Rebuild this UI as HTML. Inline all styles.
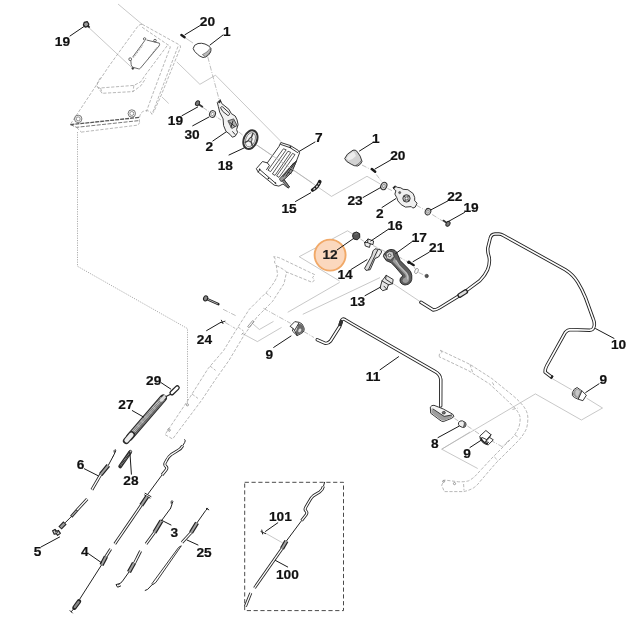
<!DOCTYPE html>
<html>
<head>
<meta charset="utf-8">
<title>Parts diagram</title>
<style>
html,body{margin:0;padding:0;background:#fff;}
body{width:644px;height:623px;overflow:hidden;}
svg{display:block;}
.lb{font-family:"Liberation Sans",Arial,sans-serif;font-weight:bold;font-size:13.7px;fill:#111;stroke:#111;stroke-width:0.2px;}
.ld{stroke:#1a1a1a;stroke-width:1;fill:none;stroke-linecap:round;}
.k{stroke:#222;stroke-width:0.9;fill:none;stroke-linejoin:round;stroke-linecap:round;}
.kf{stroke:#222;stroke-width:0.9;stroke-linejoin:round;}
.g{stroke:#929292;stroke-width:0.65;fill:none;stroke-dasharray:3.2 1.6;stroke-linejoin:round;}
.t{stroke:#b0b0b0;stroke-width:0.7;fill:none;}
.td{stroke:#a4a4a4;stroke-width:0.7;fill:none;stroke-dasharray:5 1.5 1 1.5;}
.dot{stroke:#999;stroke-width:0.8;fill:none;stroke-dasharray:1.2 1.2;}
.tube{stroke:#222;stroke-width:3.4;fill:none;stroke-linejoin:round;stroke-linecap:round;}
.tubei{stroke:#fff;stroke-width:1.6;fill:none;stroke-linejoin:round;stroke-linecap:round;}
.w{stroke:#222;stroke-width:1;fill:none;stroke-linecap:round;stroke-linejoin:round;}
.cb{stroke:#222;stroke-width:3;fill:none;stroke-linejoin:round;}
.ci{stroke:#fff;stroke-width:1.3;fill:none;stroke-linejoin:round;}
.cn{stroke:#222;stroke-width:4.4;fill:none;}
.cni{stroke:#a2a2a2;stroke-width:2;fill:none;}
</style>
</head>
<body>
<svg width="644" height="623" viewBox="0 0 644 623">
<rect x="0" y="0" width="644" height="623" fill="#fff"/>

<!-- ===== thin gray construction lines ===== -->
<g id="thin">

<path class="t" d="M118 4L142 24.2"/>
<path class="t" d="M176.8 61.9L199.9 84.3L215.5 75.2L281 141.5"/>
<path class="td" d="M207.8 57L212 73L219.2 99.8"/>
<path class="t" d="M185.5 38L193 43"/>
<path class="t" d="M88.4 27.2L131.8 67.6"/>
<path class="t" d="M162 97L168.7 103.5"/>
<path class="td" d="M203 107.5L221 120M238.8 131.9L243.7 136"/>
<path class="t" d="M256 144.5L331.5 196.4L367 176.3L380 183.8"/>
<path class="td" d="M362 165L371 169.6M376.3 174.5L382 182M387.5 188.4L393.1 191.2M416.4 205.2L424.8 210M432.2 214.5L442.5 221"/>
<path class="t" d="M339.6 281L299.2 256.7L347.5 230.8L352.8 234"/>
<path class="td" d="M360.4 239L365 242M373 245.5L386 252M398 256.4L408 262M414 267L416 270M418.6 272.5L425 275.5"/>
<path class="t" d="M339.6 282.4L287.7 312.3M380 277.6L302.8 314.3"/>
<path class="t" d="M393.2 283.7L420.5 301.9"/>
<path class="td" d="M223.1 309.3L236.2 315.9M225.1 322.4L235.2 328.4M263.4 308.3L290.7 323.4M303.8 331.5L313.9 337.5"/>
<path class="t" d="M252.3 323.4L259.4 329.5L273.5 321.4M242.3 333.5L257.4 341.6L281.6 327.4"/>
<path class="dot" d="M77.5 132L77.5 266.3L187.5 328.6L187.5 404"/>
<path class="t" d="M552.2 378.6L571.7 389.8M586.6 398.2L602.5 408L581.4 420L535.4 393.9L441.7 449.2L477.7 468.5"/>
<path class="t" d="M441.7 449.2L470 432"/>
<path class="td" d="M454.5 418.4L458.4 421M467.4 426L479 433.8M490.5 440.2L502 446.6L509.6 439.8"/>
<path class="t" d="M265.5 533.2L284 543.7"/>

</g>

<!-- ===== dashed phantom parts ===== -->
<g id="phantom">
<!-- housing -->
<g class="g">
<path d="M142.1 24.2Q139 24.6 137.6 26.6L108.5 66.8L70.4 124.3"/>
<path d="M142.1 24.2L180 45.2L180.6 47.1L161.3 95L153.5 112.6"/>
<path d="M142.1 27.2L167.6 44.6Q170 45.6 170.3 47.1L152.4 95L146.4 111.6"/>
<path d="M178 46.5L159.4 95L152 114.3"/>
<path d="M167.1 45.8L144.6 76L140.8 81.8L133.9 85.4L100 88Q97.8 88.2 97.2 86.4Q96.4 83.4 101 77"/>
<path d="M97.2 86.4L102.1 93.3L133 91.6L141.1 85.5L146 78M133.9 85.4L133 91.6M100.6 88L102.1 93.3"/>
<path d="M81.3 132.1L138 125.1L139.5 122.8M76.6 127.5L81.3 132.1"/>
<path d="M152 114.3Q150.6 110.6 145.7 110.6Q140.4 111.4 139.5 117.4Q139.4 120.6 139.5 122.8"/>
</g>
<g stroke="#555" fill="none" stroke-width="0.8">
<path d="M70.4 124.6L139.5 117.4" stroke-width="1.3" stroke-dasharray="4 1"/>
<path d="M70.4 124.6L76.6 127.3L139 120.6" stroke-dasharray="4 1.4"/>
<circle cx="78.2" cy="118.9" r="3.7"/><circle cx="78.2" cy="118.9" r="2" stroke="#777"/>
<circle cx="131.8" cy="113.5" r="3.7"/><circle cx="131.8" cy="113.5" r="2" stroke="#777"/>
</g>
<!-- window on housing -->
<g stroke="#444" fill="none" stroke-width="0.8">
<path d="M146.6 40L159.4 43.2Q160 44.6 159 46L140.4 68.2Q139.6 69.2 138.4 68.8L133.4 67.4Q131 66.4 131.2 64.6L130.8 60.4M144.7 40.7L132.6 57.2"/>
<path d="M142.6 45.6L133.6 57.6M156.6 47.6L147.6 59.6" stroke-dasharray="1 1" stroke="#777"/>
<circle cx="144.6" cy="38.9" r="1.2"/><circle cx="155" cy="40.6" r="1.3"/><circle cx="130.2" cy="59.2" r="1.4"/>
<circle cx="132.8" cy="68.4" r="0.9" fill="#333"/>
</g>
<!-- left phantom handle -->
<g class="g" stroke="#909090">
<path d="M273.7 256.7L275.6 259.4L274.4 262L276.3 265.7L277.6 274.7Q276 281 267.3 291.4L249.3 309.3L237.8 327.3L223.7 350.4L208.2 368.4L190.3 396.7L165 434.6L172.6 439L201.8 400L216 378.7L228.8 360.7L244.2 335L257 317L272.4 301.6L284 283.7L286.6 272L312.3 282.4L314.4 280L312.6 277.6L314.8 274.7L282.7 259.3Q277 256.6 273.7 256.7"/>
<path d="M276.3 265.7Q282 268 286.6 272"/>
<path d="M266 293L271 297M238 327L243.5 331M210 366L215.6 370.4M192 394L198 398.4"/>
</g>
<g stroke="#777" stroke-width="0.7" fill="none">
<circle cx="187.4" cy="404.8" r="1.1"/><path d="M168.4 428.6L170.4 429.8L169.6 431.4L167.6 430.2Z"/>
<path d="M247.6 326.6L252.6 320.6L254 321.6L249 327.6ZM241.6 334.6L243.6 332.6"/>
</g>
<!-- right phantom handle -->
<g class="g" stroke="#909090">
<path d="M440.4 350.3L470 364.4L491.8 378.5L512.4 395.2Q520 401.6 523.9 406.8Q527.6 412 527.8 417.1Q528 423 526.5 428.6Q523 436 517.5 441.5L495.7 463.3L480.2 481.3Q477.6 485 473.8 487.7Q469 490.6 463.5 491.6L444.3 491.6L441.7 485.2L444.3 480L458.4 481.8Q464.6 482 468.7 480.8Q472.6 478.6 475.1 476.2L491.8 458.2L512.4 437.6Q516.6 432.6 518.8 427.4Q520.4 422 520.1 417.1Q518.6 412 514.9 408.1L507.2 400.4L489.2 383.7L468.7 370.8L439.1 356.7"/>
<path d="M440.4 350.3L442 352.4L439.4 354.2L439.1 356.7"/>
<path d="M470 364.4L472.5 372M492.4 382.4L494.4 386.2M512.4 409.4L517.6 408.2M515 435L518.8 437.6M494.4 457L498.2 460.8M463.6 484L464 490.4"/>
</g>
<g stroke="#777" stroke-width="0.7" fill="none"><circle cx="443.6" cy="481.4" r="1"/><circle cx="454.5" cy="483.6" r="1.1"/></g>
<!--PHANTOM-->
</g>

<!-- ===== highlighted circle ===== -->
<circle cx="330.1" cy="255.1" r="15.5" fill="#fbd8be" stroke="#f1a968" stroke-width="1.9"/>

<!-- ===== parts ===== -->
<g id="parts">

<!-- tube 10 -->
<path id="t10" class="tube" d="M420.9 302.3L433.3 310Q436 310 439.5 307.9L461.2 294.5L479.9 280.6Q485 275.5 487.6 269.7Q490.4 262 489 256.5Q487.4 252 487.8 248L490.1 238.6Q491 234.2 495 234L499 234Q501 234 503.5 235.5L565.3 269.7Q573 274.5 577.7 282.1Q582 289 585.5 297.6L593.4 319.4Q594.8 323 594.2 326Q593.4 330.2 589.6 330.2L571.5 329.6Q567.5 329.6 565.3 332.4L546.6 366Q545 369 545.1 372.2L551.3 376.8"/>
<path class="tubei" d="M420.9 302.3L433.3 310Q436 310 439.5 307.9L461.2 294.5L479.9 280.6Q485 275.5 487.6 269.7Q490.4 262 489 256.5Q487.4 252 487.8 248L490.1 238.6Q491 234.2 495 234L499 234Q501 234 503.5 235.5L565.3 269.7Q573 274.5 577.7 282.1Q582 289 585.5 297.6L593.4 319.4Q594.8 323 594.2 326Q593.4 330.2 589.6 330.2L571.5 329.6Q567.5 329.6 565.3 332.4L546.6 366Q545 369 545.1 372.2L551.3 376.8"/>
<path d="M459.8 295.3L465.6 291.7" stroke="#222" stroke-width="5" stroke-linecap="round" fill="none"/>
<path d="M460 295.2L465.4 291.8" stroke="#ddd" stroke-width="2.6" stroke-linecap="round" fill="none"/>
<path d="M551 376.5L552.6 377.7" stroke="#222" stroke-width="3.6" fill="none"/>
<!-- rod 11 -->
<path class="tube" d="M317.2 339.7L324.5 343Q327.5 344.3 330.5 341L339.7 326.5L341.2 321.2Q342 318 345 319.6L353 324.4L435 371.5Q440 374 440.8 379.4L440.7 405.9"/>
<path class="tubei" d="M317.2 339.7L324.5 343Q327.5 344.3 330.5 341L339.7 326.5L341.2 321.2Q342 318 345 319.6L353 324.4L435 371.5Q440 374 440.8 379.4L440.7 405.9"/>
<path d="M340.3 324.5L341.3 321.6" stroke="#333" stroke-width="3.6" stroke-linecap="round" fill="none"/>
<!-- bracket of 11 -->
<path class="kf" fill="#f4f4f4" stroke-width="1.2" d="M430.3 407.1Q431.6 405 434 405.3L438.6 407.1L443.3 409L452.6 414.1L454 416.4L451.7 418.3L443.3 421.6Q441.4 421.4 440 420.2L430.7 413.2Z"/>
<path d="M431.4 408.4L433 409.4L444.2 416.6L451.7 415.2L453 416.6L451.4 417.8L443.4 420.8L440.4 419.6L431.4 412.8Z" fill="#9e9e9e"/>
<path class="k" stroke-width="0.8" d="M433 409L444.2 416.4L451.7 415"/>
<ellipse cx="443.8" cy="412.7" rx="1.6" ry="1.3" fill="#777" stroke="#222" stroke-width="0.7"/>
<!-- part 8 -->
<path class="kf" fill="#f0f0f0" stroke-width="1.1" d="M458.6 422.6Q459.6 420.4 462.4 420.8L465.6 422.6Q466.6 424.6 465.4 426.6Q464 427.8 462.4 427.4L459.2 425.8Q458 424.4 458.6 422.6Z"/>
<path d="M463.6 421.6L465.6 422.8Q466.4 424.6 465.2 426.4Q464 427.4 462.8 427.2Q464.6 424.6 463.6 421.6Z" fill="#666"/>

<!-- part 12 nut -->
<path d="M353.2 233.2L356.5 232L359.6 233.6L359.8 237.6L357.2 239.8L353.6 239L352.6 236Z" fill="#555" stroke="#222" stroke-width="1" stroke-linejoin="round"/>
<path d="M354.6 234.2L357.6 233.6" stroke="#888" stroke-width="0.8" fill="none"/>
<!-- part 16 clip -->
<path class="kf" fill="#eee" d="M364.6 242.5L368 239L373.6 241L373 244.6L370.3 243.8L369.5 247.4L365.3 246Z"/>
<path class="k" d="M368 239L367.6 242.6L370.3 243.8M364.6 242.5L367.6 242.6"/>
<!-- part 14 lever -->
<path class="kf" fill="#dcdcdc" d="M375 248.8L380 249.5Q382 250.5 381.6 252.2L378.5 257L375 258.5L370.2 269.7L366 270.4L364.6 268.3L371.6 255.7L373 250.9Z"/>
<path class="k" d="M377.6 250.2L374.6 256.4L368.6 269.4" stroke="#555" stroke-width="0.7"/>
<path d="M379.4 251.2L377.2 256" stroke="#fff" stroke-width="1" fill="none"/>
<!-- part 17 handle -->
<path class="kf" fill="#5e5e5e" stroke-width="1.1" d="M386.9 250.9Q389.5 249 392.5 249.5Q395.4 250 396.7 252.2L400.2 260.6L407.9 268.3Q411.4 271.5 411.8 275.3Q412.3 280 410.7 282.3Q408.5 285 405 285Q402 284.6 400.9 283Q399.4 281 400.2 278.8Q401 276.8 403 276L395.3 267L391.1 262.7L386.2 260.6L383.4 256.4L384.1 253.6Z"/>
<path d="M394.6 257.6L398 264.4L406 272Q409.6 275.6 409.2 279.4Q408.4 282.6 405.2 283Q402.6 282.4 402.4 280.4Q402.8 278.4 405.4 277.6Q406.4 276.4 405 274.6L397 266L392.6 261.6Z" fill="#9c9c9c"/>
<path d="M396 260.6L399.4 266L406.6 273.4Q408.4 276 407.6 279" fill="none" stroke="#c2c2c2" stroke-width="1.1" stroke-linecap="round"/>
<path d="M386 253.4L389.6 251.2L393 252L394 256.6L390.6 260L386.6 258.6Z" fill="#c8c8c8" stroke="#222" stroke-width="0.6"/>
<circle cx="389.6" cy="255.4" r="1.4" fill="#fff" stroke="#222" stroke-width="0.7"/>
<path d="M384.4 255.4L386.4 258.6" stroke="#fff" stroke-width="0.8" fill="none"/>
<!-- screw 21, washer, nut -->
<path d="M409 262.3L413.8 265.2" stroke="#1a1a1a" stroke-width="2.2" stroke-linecap="round" fill="none"/>
<circle cx="408.9" cy="262.2" r="1.7" fill="#1a1a1a"/>
<ellipse cx="416.5" cy="271" rx="1.6" ry="2.7" fill="#fff" stroke="#888" stroke-width="0.8" transform="rotate(25 416.5 271)"/>
<circle cx="426.7" cy="276" r="1.7" fill="#555" stroke="#333" stroke-width="0.6"/>
<!-- part 13 clip -->
<path class="kf" fill="#e6e6e6" d="M382 280.9L386.2 275.3L393.2 279.5L392.5 283.7L388.3 285L386.9 289.3L382.7 290.7L380 287.9Z"/>
<path class="k" d="M382 280.9L388.6 284.8M386.2 275.3L385.6 279.2L392.5 283.7M384 286.2L386.9 289.3" stroke-width="0.8"/>

<!-- knob 1a -->
<path class="kf" fill="#fff" d="M193.2 48.6Q193.6 44.6 198 43.5Q201.6 42.8 205 44Q209.6 45.6 211 48.6Q211.4 52.4 208.5 55Q206 57.4 203 57.5Q199.6 56.4 197.4 54.2Q194 51.4 193.2 48.6Z"/>
<path d="M202.4 54.6Q207.6 52.6 210.2 48.2L210.8 50.6Q209.4 54.4 205.4 56.8Z" fill="#bbb" stroke="#444" stroke-width="0.6"/>
<!-- screw 20a -->
<path d="M181.4 35L184.6 37.3" stroke="#1a1a1a" stroke-width="2.4" stroke-linecap="round" fill="none"/>
<!-- bolt 19a -->
<path d="M84.2 22.4L87.2 21.6L88.8 24L88.2 26.4L85.2 27.2L83.4 25Z" fill="#9a9a9a" stroke="#222" stroke-width="1.2" stroke-linejoin="round"/><path d="M87.6 25.4L89.6 27.6" stroke="#222" stroke-width="1.6" fill="none"/>
<!-- bolt 19b -->
<path d="M197.6 103.4L202.3 106.7" stroke="#333" stroke-width="1.8" stroke-linecap="round" fill="none"/>
<ellipse cx="197.5" cy="103.2" rx="1.9" ry="2.6" fill="#777" stroke="#222" stroke-width="0.9" transform="rotate(30 197.5 103.2)"/>
<!-- washer 30 -->
<ellipse cx="212.5" cy="114" rx="2.9" ry="3.4" fill="#dcdcdc" stroke="#333" stroke-width="1" transform="rotate(25 212.5 114)"/>
<ellipse cx="212.5" cy="114" rx="1.3" ry="1.7" fill="#fff" stroke="#555" stroke-width="0.5" transform="rotate(25 212.5 114)"/>
<!-- part 2a -->
<path class="kf" fill="#f2f2f2" stroke-width="1.2" d="M217.3 102.5L220.2 99.6L221.7 103.5L224.1 105.4L228.9 109.3L231.3 113.6L235.2 116L237.1 119.9L238.1 124.7L236.6 129.5L237.6 132.4L235.2 136.2L232.3 137.2L229.9 134.3L226 131.4L223.6 125.6L223.1 118.9L219.7 112.2L218.3 106.4Z"/>
<path class="k" stroke-width="0.8" d="M220.7 107.3Q221.4 106.4 222.6 106.9L228.9 112.6Q229.8 113.6 229.4 114.6Q228.8 115.6 227.9 115.5L223.1 111.7Z"/>
<path d="M227.9 120.8L233.7 118.9L237.1 125.6L231.8 128.5Z" fill="#b0b0b0" stroke="#333" stroke-width="0.8"/>
<path class="k" stroke-width="0.7" d="M229.6 122.2L234.6 126.2M233 120.8L231 127.2M232.6 131.6L235 134.4"/>
<path d="M218.6 102.8L220.6 101" stroke="#222" stroke-width="1.6" fill="none"/>
<!-- part 18 wheel -->
<g transform="rotate(22 250.4 139.7)">
<ellipse cx="250.4" cy="139.7" rx="6.6" ry="9.7" fill="#f2f2f2" stroke="#333" stroke-width="2"/>
<ellipse cx="250.4" cy="139.7" rx="4.6" ry="7.4" fill="none" stroke="#666" stroke-width="0.7"/>
<path d="M250.4 139.7L250.4 132.4M250.4 139.7L246.2 144.6M250.4 139.7L254.6 144.6" stroke="#444" stroke-width="1.5" fill="none"/>
<ellipse cx="250.4" cy="139.7" rx="1.6" ry="2.2" fill="#ccc" stroke="#333" stroke-width="0.8"/>
</g>
<!-- knob 1b -->
<path class="kf" fill="#d2d2d2" d="M344.7 158.6Q346 154 353 150.2Q355.4 149.6 356.8 151.2Q361 156 362 161.4Q361 164.6 357.7 166Q354 166.2 351.2 164.2Q345.6 161.6 344.7 158.6Z"/>
<path d="M346.6 158.2Q348 154.6 353.4 151.8Q355 153 356 156Q352 160 348.6 160.6Z" fill="#eee"/>
<path d="M356 165.4Q360 163.6 361.4 160.4" stroke="#444" stroke-width="0.7" fill="none"/>
<!-- screw 20b -->
<path d="M371.8 169L375.2 171.8" stroke="#1a1a1a" stroke-width="2.4" stroke-linecap="round" fill="none"/>
<!-- washer 23 -->
<ellipse cx="383.8" cy="186" rx="2.9" ry="3.8" fill="#cfcfcf" stroke="#333" stroke-width="1.1" transform="rotate(25 383.8 186)"/>
<ellipse cx="383.8" cy="186" rx="1.2" ry="1.8" fill="#e8e8e8" stroke="#555" stroke-width="0.5" transform="rotate(25 383.8 186)"/>
<!-- part 2b -->
<path class="kf" fill="#f0f0f0" stroke-width="1.2" d="M393 187.8L394.9 185.9L397.3 187.3L400.7 187.8L403.1 189.3L407.9 189.7L413.2 193.6L414.7 197.5L414.7 200.8L417.1 203.2L415.2 207.1L412.8 208.1L411.3 206.6L405.5 207.1L401.2 204.7L397.8 200.8L396.9 197.9L394.9 194.1L395.9 190.7L394.5 189.7Z"/>
<circle cx="406.5" cy="198.4" r="3.7" fill="#b0b0b0" stroke="#333" stroke-width="0.9"/>
<path class="k" stroke-width="0.8" d="M404.4 196.4L408.8 200.6M408.4 196L404.8 200.8" stroke="#555"/>
<circle cx="406.6" cy="198.4" r="1.3" fill="#eee" stroke="#555" stroke-width="0.5"/>
<circle cx="399.7" cy="192.6" r="1.1" fill="#666" stroke="#333" stroke-width="0.5"/>
<path d="M393.4 188.4L395.4 186.4" stroke="#222" stroke-width="1.6" fill="none"/>
<!-- washer 22 -->
<ellipse cx="428" cy="211.7" rx="2.7" ry="3.3" fill="#cfcfcf" stroke="#333" stroke-width="1" transform="rotate(25 428 211.7)"/>
<ellipse cx="428" cy="211.7" rx="1.1" ry="1.5" fill="#e8e8e8" stroke="#555" stroke-width="0.5" transform="rotate(25 428 211.7)"/>
<!-- bolt 19c -->
<path d="M443.4 220.6L447.6 223.4" stroke="#333" stroke-width="1.8" stroke-linecap="round" fill="none"/>
<ellipse cx="448" cy="223.8" rx="1.9" ry="2.6" fill="#777" stroke="#222" stroke-width="0.9" transform="rotate(30 448 223.8)"/>

<!-- part 9a -->
<path class="kf" fill="#fff" stroke-width="1.1" d="M290.1 326.3L294.8 321.6L299.4 322.4Q302.6 323.6 303.3 326.3Q304.6 328.4 304.1 330.2Q303.6 332.2 301.7 333.3L297.1 335.6L292.4 331L293.2 328.6Z"/>
<path d="M298.6 323.4Q302.4 324 303.2 326.6Q304.4 328.6 303.8 330.4Q303.2 332.2 301.4 333L297.4 335L295.4 332.8Z" fill="#6a6a6a"/>
<path class="k" d="M298.8 323.2L294.6 330.4L297.1 335.6M293.2 328.6L294.6 330.4" stroke-width="0.8"/>
<ellipse cx="299.8" cy="330.4" rx="1.4" ry="2" fill="#ddd" transform="rotate(30 299.8 330.4)"/>
<!-- part 9c -->
<path class="kf" fill="#fff" stroke-width="1.1" d="M572.4 392.5Q573.6 388.6 577.1 387.5L582.5 391.4L586.4 395.2L582.9 400.7L577.9 399.1Q573.6 397.6 572.4 395.6Z"/>
<path d="M573 392.6Q574 389.4 577 388.2L581.6 391.6L578.6 398.4Q574.4 397 573 395.2Z" fill="#9a9a9a"/>
<path d="M575.4 391.6Q576.4 389.8 577.6 389.6L580 391.6L577.6 397Q575.6 395.6 575.4 394Z" fill="#c8c8c8"/>
<path class="k" d="M581.8 391.2L578.4 398.8" stroke-width="0.8"/>
<!-- part 9b -->
<path class="kf" fill="#fff" stroke-width="1.1" d="M479.8 436.1L485.9 430.5L491 434.7L489.6 437.5L493.3 439.8L488.2 444.9Q485.6 444.6 483.6 443.1Q481 441.4 480.3 438.9Z"/>
<path class="k" d="M482.4 437.6L486.6 439.6L491 434.7M486.6 439.6L485.8 441.6L489.6 437.5M485.8 441.6L488.6 442.4" stroke-width="0.9"/>
<path d="M480.8 437.4Q481.6 440.6 484.2 442.4Q486 443.6 488 443.8" stroke="#222" stroke-width="1.6" fill="none"/>
<!-- spring 27 -->
<path d="M163.2 398.2L129.8 436.8" stroke="#2b2b2b" stroke-width="7.4" stroke-linecap="round" fill="none"/>
<path d="M163 398.5L130.6 435.9" stroke="#d4d4d4" stroke-width="5" stroke-linecap="butt" fill="none"/>
<path d="M163 398.5L130.6 435.9" stroke="#5c5c5c" stroke-width="5" stroke-dasharray="0.6 0.8" fill="none"/>
<path d="M164.4 399.7L132 437.1" stroke="#333" stroke-width="1.6" stroke-opacity="0.5" fill="none"/>
<path d="M131.8 434.4L126.2 440.8" stroke="#2b2b2b" stroke-width="6.6" stroke-linecap="round" fill="none"/>
<path d="M131.4 434.8L126.6 440.4" stroke="#eee" stroke-width="4.4" stroke-linecap="round" fill="none"/>
<path d="M164.4 396.8L161.6 400" stroke="#ddd" stroke-width="3.4" stroke-linecap="round" fill="none"/>
<!-- hook 29 -->
<path d="M165.6 396.8L171 394" stroke="#222" stroke-width="1.2" fill="none"/>
<g transform="rotate(46 174.6 390.3)">
<rect x="172.7" y="384.7" width="3.8" height="11.2" rx="1.9" fill="#fff" stroke="#222" stroke-width="1.3"/>
</g>
<!-- spring 28 -->
<path d="M130 452.4L120.2 466.4" stroke="#2b2b2b" stroke-width="3.8" stroke-linecap="round" fill="none"/>
<path d="M129.8 452.8L120.4 466" stroke="#999" stroke-width="1.7" stroke-dasharray="0.8 0.8" fill="none"/>
<circle cx="130.4" cy="451.6" r="1.3" fill="#fff" stroke="#222" stroke-width="0.8"/>
<!-- cables -->
<path class="w" d="M113.3 456L108.3 465.3"/><path class="w" stroke-width="1.4" d="M113.3 456L115.2 452.2Q116.6 449.8 115 449.6Q113.4 450.2 114.2 452.4"/>
<path class="cn" d="M108.3 465.3L100.7 474.6"/><path class="cni" d="M108.3 465.3L100.7 474.6"/>
<path class="cb" d="M100.7 474.6L91.9 489.7"/><path class="ci" d="M100.7 474.6L91.9 489.7"/>
<path class="cb" d="M87.2 499L77.1 510"/><path class="ci" d="M87.2 499L77.1 510"/>
<path d="M77.1 510L71.2 516.7" stroke="#222" stroke-width="3" fill="none"/><path d="M76.6 510.6L71.7 516.1" stroke="#aaa" stroke-width="1.4" fill="none"/>
<path class="w" d="M71.2 516.7L65.3 522.6"/>
<path d="M65 522.9L60 528" stroke="#222" stroke-width="4.6" fill="none"/><path d="M64.4 523.5L60.6 527.4" stroke="#999" stroke-width="2.4" fill="none"/>
<path d="M52.6 530.8L55 529.4L56.6 531.2L58.4 530.4L60.4 533.4L57.6 535.4L56.4 533.6L54.2 534.2Z" fill="#ccc" stroke="#222" stroke-width="1.1" stroke-linejoin="round"/><path class="k" d="M55 529.4L56 532.4M58.4 530.4L57.6 532.4" stroke-width="0.8"/>
<path class="w" d="M184.8 439.6Q186 440.6 184.6 442.6L182.7 445.7"/>
<path class="cb" d="M182.7 445.7Q181 449 177 451L171.2 454.6Q168 457 166.4 460.6L164.9 463.4Q164.4 465.6 166.2 466.6Q167.6 468 166 470L162 475"/><path class="ci" d="M182.7 445.7Q181 449 177 451L171.2 454.6Q168 457 166.4 460.6L164.9 463.4Q164.4 465.6 166.2 466.6Q167.6 468 166 470L162 475"/>
<path class="w" d="M162 475L148.2 493.7"/>
<path class="w" stroke-width="1.6" d="M145.1 493.3L151 496.6M144.6 495L150 498"/>
<path class="cn" d="M147.2 496.4L141.3 505.2"/><path class="cni" d="M147.2 496.4L141.3 505.2"/>
<path class="cb" d="M141.3 505.2L114.8 543.8"/><path class="ci" d="M141.3 505.2L114.8 543.8"/>
<path class="cb" d="M110.7 549L106 556.4"/><path class="ci" d="M110.7 549L106 556.4"/>
<path class="cn" d="M106 556.4L101.5 565"/><path class="cni" d="M106 556.4L101.5 565"/>
<path class="w" d="M101.5 565L79.8 599"/>
<path d="M79 601.4L74.4 607.8" stroke="#222" stroke-width="4.4" stroke-linecap="round" fill="none"/><path d="M78.6 602L74.8 607.2" stroke="#8a8a8a" stroke-width="2.2" stroke-linecap="round" fill="none"/>
<path class="w" stroke-width="1.6" d="M74 608.4L71.4 611.6M70 610.6L72.4 613"/>
<path class="w" d="M170.6 508.3L161.4 520.8"/><path class="w" stroke-width="1.4" d="M170.6 508.3L172.2 503.6Q173.6 500.8 172 500.6Q170.6 501.2 171.2 503.4"/>
<path class="cn" d="M161.4 520.8L154.5 532.3"/><path class="cni" d="M161.4 520.8L154.5 532.3"/>
<path class="cb" d="M154.5 532.3L146.1 543.8"/><path class="ci" d="M154.5 532.3L146.1 543.8"/>
<path class="cb" d="M140.6 551L134.4 563.4"/><path class="ci" d="M140.6 551L134.4 563.4"/>
<path class="cn" d="M134 563L129 572"/><path class="cni" d="M134 563L129 572"/>
<path class="w" d="M129 572L122 581.8L118.6 584.6"/>
<path class="w" stroke-width="1.3" d="M119.6 583.6L116 584.6L117.6 587.2L120.6 586"/>
<path class="w" d="M207.6 508.2L205.6 510.6L197 522.8"/>
<path class="w" stroke-width="1.6" d="M206.4 508.4L208.8 509.8"/>
<path class="cn" d="M197 522.8L191 532.7"/><path class="cni" d="M197 522.8L191 532.7"/>
<path class="cb" d="M191 532.7L182 542.5"/><path class="ci" d="M191 532.7L182 542.5"/>
<path class="k" stroke-width="0.9" d="M181 546L178.6 547.4L152 583.6L152.8 584.6L155.6 582.6Z"/>
<path class="w" d="M152.6 584.2L147.6 589.4L145.2 590.4"/>
<path class="w" d="M324.6 482.3L323.4 486.4"/>
<path class="cb" d="M323.4 486.4Q322.6 490 319.6 492L313.6 495.6Q311.4 497.4 310 500L305.6 507.6Q304.4 509.8 306 511Q307.6 512.6 306.2 514.6L301.6 520.6"/><path class="ci" d="M323.4 486.4Q322.6 490 319.6 492L313.6 495.6Q311.4 497.4 310 500L305.6 507.6Q304.4 509.8 306 511Q307.6 512.6 306.2 514.6L301.6 520.6"/>
<path class="w" d="M301.6 520.6L286.4 541"/>
<path class="cn" d="M286.4 541L282 548.6"/><path class="cni" d="M286.4 541L282 548.6"/>
<path class="cb" d="M282 548.6L254.5 588"/><path class="ci" d="M282 548.6L254.5 588"/>
<path class="cb" d="M250.8 593L245.4 606.4"/><path class="ci" d="M250.8 593L245.4 606.4"/>
<path class="w" stroke-width="1.5" d="M261 531.6L265.6 533.6M261.8 530L262.6 534"/>
<!-- part 7 box -->
<path class="kf" fill="#fff" stroke-width="1.2" d="M280.8 142.5L290.5 145.6L298.2 150.4L299.6 152.8L295.3 163.9L291.4 172.6L284 179.6L289.5 187L288.1 188L283 184L278.9 186.1L274.1 185.1L258.2 172.1L256.3 168.7L262.5 161.5L267.3 162.9L278.9 146.6Z"/>
<path d="M296.6 160.6L291.4 172.6L284 179.6L281 181.6L279.4 179L290.6 166.4Z" fill="#9a9a9a" stroke="#222" stroke-width="0.7"/>
<path class="k" stroke-width="0.8" d="M293.6 163L283 176.6M295.4 162L286 176M288 172.4L291 173.6M290 169L293 170.4"/>
<path d="M284 179.6L289.5 187L288.1 188L282.4 181.4Z" fill="#888" stroke="#222" stroke-width="0.7"/>
<path class="k" stroke-width="0.8" d="M280.6 144.4L290 147.6L297.6 152.6M267.3 162.9L269.4 165.4L266.6 169.6M258.2 172.1L259.8 169.6L276 183.6"/>
<g stroke="#222" stroke-width="0.75" fill="#fff">
<path d="M283.4 148.8L286.2 149.8L270.6 171.6L268 170.2Z"/>
<path d="M288 151.2L290.8 152.4L275 175.4L272.4 174Z"/>
<path d="M292.6 153.4L295 154.6L279 177.4L276.6 176Z"/>
</g>
<circle cx="259.6" cy="169.4" r="0.8" fill="#222"/><circle cx="268.4" cy="178.4" r="0.8" fill="#222"/><circle cx="275.4" cy="183" r="0.8" fill="#222"/><circle cx="290.4" cy="147" r="0.9" fill="#222"/>
<path class="t" d="M256 144.5L312 182.7" stroke="#999"/>
<!-- part 15 -->
<path d="M312.6 190Q317.6 187.4 319.8 181.6" stroke="#1e1e1e" stroke-width="3.6" stroke-linecap="round" fill="none"/>
<path d="M313.4 189.6Q317 187.4 319.2 183" stroke="#e8e8e8" stroke-width="1.2" stroke-dasharray="2.2 1.4" fill="none"/>
<!-- bolt near 24 -->
<path d="M206 298.6L218.4 304.2" stroke="#222" stroke-width="2.4" stroke-linecap="round" fill="none"/>
<path d="M207.4 299.2L217.8 303.9" stroke="#bbb" stroke-width="0.9" fill="none"/>
<ellipse cx="205.6" cy="298.4" rx="2" ry="2.6" fill="#888" stroke="#222" stroke-width="1" transform="rotate(25 205.6 298.4)"/>
<!-- pin 24 -->
<path class="w" stroke-width="1.2" d="M221.4 320.2L223 323.6M221 322.6L225 321.2"/>
<!-- inset box -->
<rect x="244.7" y="482.3" width="98.8" height="128.3" fill="none" stroke="#4a4a4a" stroke-width="1" stroke-dasharray="4.2 2.6"/>
<!--PARTS-->
</g>

<!-- ===== leaders ===== -->
<g id="leaders" class="ld">
<path d="M70.0 36.0L84.0 26.5"/>
<path d="M200.0 25.6L185.0 34.7"/>
<path d="M223.0 35.0L210.0 45.0"/>
<path d="M182.0 115.7L197.7 107.0"/>
<path d="M192.7 125.8L209.0 117.0"/>
<path d="M212.8 141.0L226.0 132.0"/>
<path d="M229.0 155.0L244.0 148.0"/>
<path d="M315.0 142.0L299.0 151.5"/>
<path d="M295.5 201.5L310.7 192.8"/>
<path d="M373.0 142.5L359.5 151.0"/>
<path d="M390.7 160.0L375.0 169.0"/>
<path d="M363.0 197.5L380.7 187.5"/>
<path d="M382.0 207.5L395.7 198.7"/>
<path d="M447.7 201.0L430.7 210.0"/>
<path d="M464.5 212.5L448.0 221.7"/>
<path d="M388.2 229.4L370.8 241.0"/>
<path d="M413.0 241.0L395.7 253.5"/>
<path d="M429.2 252.2L413.0 261.7"/>
<path d="M337.3 249.8L353.4 238.6"/>
<path d="M350.9 269.6L367.0 259.7"/>
<path d="M365.0 295.7L380.7 287.0"/>
<path d="M595.6 328.6L614.0 338.4"/>
<path d="M599.0 383.8L585.7 392.5"/>
<path d="M470.0 447.5L481.5 440.0"/>
<path d="M438.0 437.6L459.0 426.2"/>
<path d="M206.6 330.6L220.7 322.4"/>
<path d="M273.7 347.4L291.0 336.0"/>
<path d="M380.0 369.8L398.6 356.7"/>
<path d="M161.0 382.6L170.7 389.0"/>
<path d="M132.3 410.6L143.5 417.0"/>
<path d="M84.4 468.8L98.4 475.9"/>
<path d="M129.8 451.0L131.4 474.2"/>
<path d="M41.0 547.0L59.6 537.0"/>
<path d="M89.0 554.0L101.5 562.7"/>
<path d="M171.0 525.0L161.0 520.0"/>
<path d="M198.0 545.0L187.0 540.0"/>
<path d="M277.8 522.8L265.5 531.4"/>
<path d="M287.7 567.0L275.4 560.4"/>

</g>

<!-- ===== labels ===== -->
<g id="labels" class="lb" style="filter:grayscale(1)">
<text x="54.8" y="46.0">19</text>
<text x="199.8" y="25.7">20</text>
<text x="223.0" y="35.7">1</text>
<text x="167.8" y="124.5">19</text>
<text x="184.5" y="139.0">30</text>
<text x="205.5" y="150.7">2</text>
<text x="217.7" y="169.6">18</text>
<text x="315.1" y="141.7">7</text>
<text x="281.5" y="212.8">15</text>
<text x="372.0" y="143.0">1</text>
<text x="390.2" y="160.0">20</text>
<text x="347.5" y="204.5">23</text>
<text x="376.0" y="217.5">2</text>
<text x="447.2" y="200.5">22</text>
<text x="463.5" y="212.0">19</text>
<text x="387.5" y="229.7">16</text>
<text x="411.7" y="242.2">17</text>
<text x="429.1" y="252.2">21</text>
<text x="322.4" y="259.0" fill="#2e1a0c">12</text>
<text x="337.5" y="279.0">14</text>
<text x="350.0" y="306.4">13</text>
<text x="611.0" y="348.5">10</text>
<text x="599.5" y="383.8">9</text>
<text x="463.2" y="458.0">9</text>
<text x="431.0" y="448.0">8</text>
<text x="196.8" y="343.8">24</text>
<text x="265.5" y="358.6">9</text>
<text x="365.8" y="381.0">11</text>
<text x="146.1" y="384.5">29</text>
<text x="118.3" y="409.0">27</text>
<text x="76.8" y="469.2">6</text>
<text x="123.3" y="484.9">28</text>
<text x="33.8" y="556.0">5</text>
<text x="80.9" y="556.0">4</text>
<text x="170.5" y="537.3">3</text>
<text x="196.5" y="556.5">25</text>
<text x="269.0" y="521.0">101</text>
<text x="276.0" y="578.9">100</text>

</g>
</svg>
</body>
</html>
